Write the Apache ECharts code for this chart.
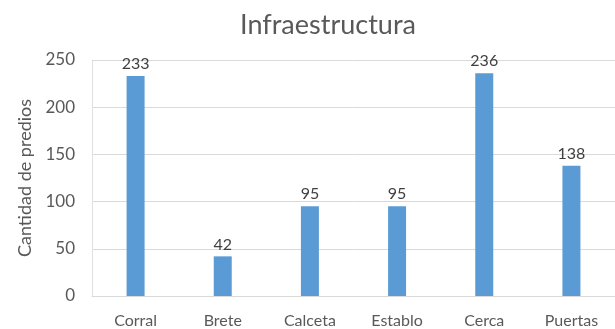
<!DOCTYPE html>
<html><head><meta charset="utf-8">
<script src="https://cdn.jsdelivr.net/npm/echarts@6/dist/echarts.min.js"></script>
<style>html,body{margin:0;padding:0;background:#fff}#c{width:615px;height:329px}</style>
</head><body><div id="c"></div>
<script>
const categories = ["Corral", "Brete", "Calceta", "Establo", "Cerca", "Puertas"];
const values = [233, 42, 95, 95, 236, 138];
const yTicks = [0, 50, 100, 150, 200, 250];

const chart = echarts.init(document.getElementById('c'));
const font = 'Lato, "Open Sans", sans-serif';
chart.setOption({
  animation: false,
  title: {text: 'Infraestructura', left: 323, textAlign: 'center', top: 7,
    textStyle: {fontFamily: font, fontSize: 27, fontWeight: 'normal', color: '#595959'}},
  grid: {left: 92, top: 60, width: 528, height: 237, containLabel: false},
  xAxis: {type: 'category', data: categories,
    axisLine: {lineStyle: {color: '#d9d9d9'}}, axisTick: {show: false},
    axisLabel: {fontFamily: font, fontSize: 16, color: '#595959', margin: 17}},
  yAxis: {type: 'value', min: yTicks[0], max: yTicks[yTicks.length-1], interval: 50,
    name: 'Cantidad de predios', nameLocation: 'middle', nameGap: 57,
    nameTextStyle: {fontFamily: font, fontSize: 18, color: '#595959'},
    axisLine: {show: true, lineStyle: {color: '#e0e0e0'}}, axisTick: {show: false},
    splitLine: {lineStyle: {color: '#d9d9d9'}},
    axisLabel: {fontFamily: font, fontSize: 17, color: '#595959', margin: 17}},
  series: [{type: 'bar', data: values, barWidth: 18,
    itemStyle: {color: '#5b9bd5'},
    label: {show: true, position: 'top', distance: 4, fontFamily: font, fontSize: 16, color: '#404040'}}]
});
</script></body></html>
